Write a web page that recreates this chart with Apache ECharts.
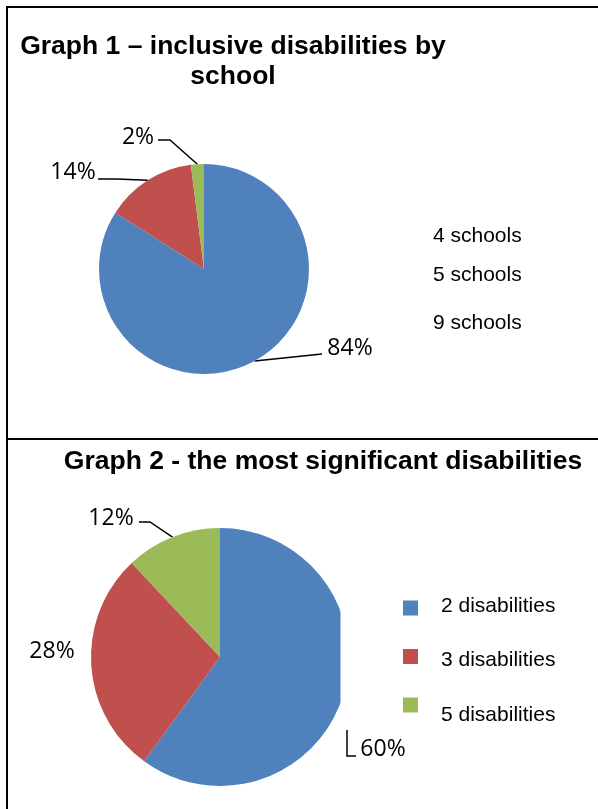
<!DOCTYPE html>
<html><head><meta charset="utf-8">
<script src="https://cdn.jsdelivr.net/npm/echarts@6/dist/echarts.min.js"></script>
<style>html,body{margin:0;padding:0;background:#fff}#c{width:598px;height:809px}</style>
</head><body><div id="c"></div>
<script>
// ---- data ----
const schoolCategories = ['4 schools', '5 schools', '9 schools'];
const schoolValues = [84, 14, 2];
const disabilityCategories = ['2 disabilities', '3 disabilities', '5 disabilities'];
const disabilityValues = [60, 28, 12];
const sliceColors = ['#4F81BD', '#C0504D', '#9BBB59'];
const chartTitles = ['Graph 1 \u2013 inclusive disabilities by\nschool', 'Graph 2 - the most significant disabilities'];

// label placement (text positions only)
const labelPos1 = [[350, 348], [73, 172], [138, 137]];
const labelPos2 = [[383, 749], [52, 651], [111, 518]];

const chart = echarts.init(document.getElementById('c'), null, {renderer: 'canvas'});

const labelFont = {color: '#000', fontSize: 23, fontFamily: 'Open Sans'};
const lineStyle = {color: '#000', width: 1.5};

function mkData(names, vals) {
  return names.map((n, i) => ({name: n, value: vals[i], itemStyle: {color: sliceColors[i]}}));
}
const data2 = mkData(disabilityCategories, disabilityValues);
data2[1].labelLine = {show: false};
data2[1].label = {width: 70, overflow: 'none'};

const legendText = {fontSize: 21, fontFamily: 'Liberation Sans', color: '#000'};

// leader line: anchor on slice (from library) -> elbow -> label end (relative to label)
function leader(p, pos, endDx, endDy, elbowDx) {
  const a = p.labelLinePoints ? p.labelLinePoints[0] : null;
  if (!a) return undefined;
  const end = [pos[0] + endDx, pos[1] + endDy];
  const elbow = elbowDx == null ? [(a[0] + end[0]) / 2, (a[1] + end[1]) / 2] : [pos[0] + elbowDx, pos[1] + endDy];
  return [a, elbow, end];
}

chart.setOption({
  animation: false,
  title: [
    {text: chartTitles[0], left: 228, top: 27, textAlign: 'center', padding: 5,
     textStyle: {fontSize: 26.5, fontWeight: 'bold', fontFamily: 'Liberation Sans', color: '#000', lineHeight: 30}},
    {text: chartTitles[1], left: 318, top: 442, textAlign: 'center', padding: 5,
     textStyle: {fontSize: 26.5, fontWeight: 'bold', fontFamily: 'Liberation Sans', color: '#000', lineHeight: 30}}
  ],
  legend: [
    {data: schoolCategories.slice(0, 2),
     orient: 'vertical', left: 414, top: 225.5, padding: 0, icon: 'none',
     itemWidth: 14, itemHeight: 14, itemGap: 18, selectedMode: false, textStyle: legendText},
    {data: schoolCategories.slice(2),
     orient: 'vertical', left: 414, top: 312.5, padding: 0, icon: 'none',
     itemWidth: 14, itemHeight: 14, selectedMode: false, textStyle: legendText},
    // graph 2: swatches
    {data: disabilityCategories, formatter: () => '',
     orient: 'vertical', left: 403, top: 600.5, padding: 0, icon: 'rect',
     itemWidth: 15, itemHeight: 15, itemGap: 33.5, selectedMode: false,
     textStyle: {fontSize: 12, lineHeight: 12}},
    // graph 2: names
    {data: disabilityCategories,
     orient: 'vertical', left: 421, top: 595.5, padding: 0, icon: 'none',
     itemWidth: 15, itemHeight: 15, itemGap: 33.5, selectedMode: false, textStyle: legendText}
  ],
  series: [
    {type: 'pie', center: [204, 269], radius: 105, data: mkData(schoolCategories, schoolValues),
     label: Object.assign({formatter: '{c}%'}, labelFont),
     labelLine: {show: true, lineStyle: lineStyle},
     emphasis: {disabled: true},
     labelLayout: p => {
       const i = p.dataIndex, pos = labelPos1[i];
       const r = {x: pos[0], y: pos[1], align: 'center', verticalAlign: 'middle'};
       const pts = i === 0 ? leader(p, pos, -28, 6) : i === 1 ? leader(p, pos, 25, 7, 44) : leader(p, pos, 20, 3, 32);
       if (pts) r.labelLinePoints = pts;
       return r;
     }},
    {type: 'pie', center: [220, 657], radius: 129, data: data2,
     label: Object.assign({formatter: '{c}%'}, labelFont),
     labelLine: {show: true, lineStyle: lineStyle},
     emphasis: {disabled: true},
     labelLayout: p => {
       const i = p.dataIndex, pos = labelPos2[i];
       const r = {x: pos[0], y: pos[1], align: 'center', verticalAlign: 'middle'};
       if (i === 0) {
         const lx = pos[0] - 36, cy = pos[1];
         r.labelLinePoints = [[lx, cy - 19], [lx, cy + 7], [lx + 9, cy + 7]];
       } else if (i === 2) {
         const pts = leader(p, pos, 28, 4, 39);
         if (pts) r.labelLinePoints = pts;
       }
       return r;
     }}
  ],
  graphic: [
    {type: 'rect', z: 100, shape: {x: 340.5, y: 580, width: 14, height: 140}, style: {fill: '#fff'}},
    {type: 'line', z: 101, shape: {x1: 6, y1: 7, x2: 598, y2: 7}, style: {stroke: '#000', lineWidth: 2}},
    {type: 'line', z: 101, shape: {x1: 7, y1: 6, x2: 7, y2: 809}, style: {stroke: '#000', lineWidth: 2}},
    {type: 'line', z: 101, shape: {x1: 6, y1: 439, x2: 598, y2: 439}, style: {stroke: '#000', lineWidth: 2}}
  ]
});
</script></body></html>
